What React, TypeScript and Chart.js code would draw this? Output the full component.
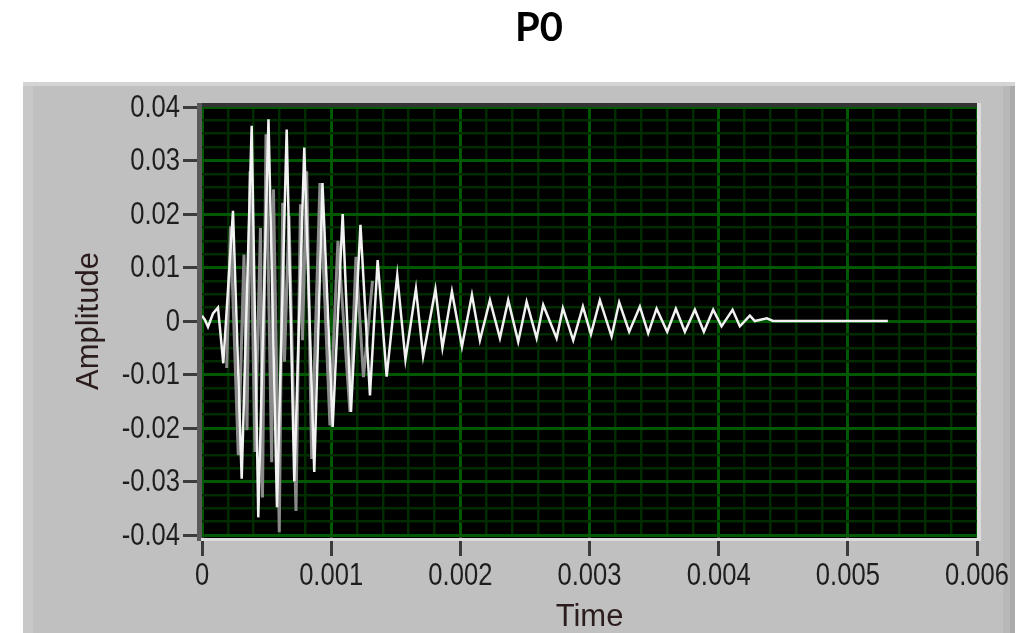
import React, { useEffect, useRef } from 'react';
import { Chart, registerables } from 'chart.js';

Chart.register(...registerables);

const chartTitle = 'P0';
const xAxisTitle = 'Time';
const yAxisTitle = 'Amplitude';
const xTickLabels = ['0', '0.001', '0.002', '0.003', '0.004', '0.005', '0.006'];
const yTickLabels = ['-0.04', '-0.03', '-0.02', '-0.01', '0', '0.01', '0.02', '0.03', '0.04'];

// main (bright) trace: time in seconds, amplitude
const mainTime = [
  0, 0.0000232, 0.0000464, 0.0000851, 0.0001238, 0.0001649, 0.0002399, 0.0003073, 0.0003847, 0.0004358,
  0.0005147, 0.0005805, 0.0006556, 0.0007144, 0.0007918, 0.0008692, 0.0009327, 0.0010116, 0.001089, 0.0011533,
  0.0012268, 0.0013003, 0.0013599, 0.0014296, 0.0015116, 0.0015751, 0.0016563, 0.0017121, 0.0018073, 0.0018615,
  0.001935, 0.0020124, 0.0020898, 0.0021517, 0.0022291, 0.0023065, 0.0023707, 0.0024481, 0.0025131, 0.0025905,
  0.0026416, 0.0027454, 0.0027941, 0.0028739, 0.0029489, 0.0030108, 0.0030805, 0.003171, 0.0032299, 0.0033073,
  0.0033901, 0.0034543, 0.0035193, 0.0036014, 0.0036687, 0.0037384, 0.0038158, 0.0038854, 0.0039574, 0.0040224,
  0.0041076, 0.0041641, 0.0042415, 0.0042802, 0.0043731, 0.0044195, 0.0053096,
];
const mainAmp = [
  0.001, 0.0002, -0.0011, 0.0014, 0.0025, -0.0079, 0.0206, -0.0295, 0.0365, -0.0367,
  0.0377, -0.0348, 0.0358, -0.03, 0.0324, -0.0282, 0.0258, -0.0198, 0.02, -0.017,
  0.018, -0.0139, 0.0114, -0.0104, 0.0085, -0.0072, 0.006, -0.0066, 0.0059, -0.005,
  0.0055, -0.0048, 0.0049, -0.0036, 0.0039, -0.0032, 0.0039, -0.0039, 0.0036, -0.0032,
  0.003, -0.0032, 0.0024, -0.0036, 0.0027, -0.0025, 0.0039, -0.0029, 0.0035, -0.002,
  0.0027, -0.0023, 0.0023, -0.002, 0.0023, -0.002, 0.0021, -0.002, 0.0021, -0.001,
  0.0021, -0.001, 0.001, 0, 0.0005, 0, 0,
];

// secondary (grey) trace seen inside the burst
const ghostTime = [
  0.0001912, 0.0002206, 0.000281, 0.0003251, 0.0003483, 0.0003715, 0.0004102, 0.0004528, 0.0004683, 0.0004954,
  0.0005395, 0.0005534, 0.0005983, 0.0006246, 0.0006385, 0.0006734, 0.0007276, 0.0007624, 0.0007779, 0.0008104,
  0.0008491, 0.0009133, 0.0009907, 0.0010526, 0.0011455, 0.001192, 0.0012500, 0.0013200,
];
const ghostAmp = [
  -0.0088, 0.0177, -0.0251, 0.0124, -0.0204, 0.028, -0.0245, 0.0174, -0.033, 0.0349,
  -0.0264, 0.0246, -0.0395, 0.0221, -0.0076, 0.0196, -0.0355, 0.0218, -0.0036, 0.028,
  -0.0258, 0.0258, -0.0195, 0.015, -0.017, 0.012, -0.0105, 0.0075,
];

const MAJOR_GRID = 'rgb(0, 88, 0)';
const MINOR_GRID = 'rgb(0, 44, 0)';
const TICK_FONT = "32px 'Liberation Sans', Arial, sans-serif";
const TITLE_FONT = "'Liberation Sans', Arial, sans-serif";
const LABEL_SQUEEZE = 0.8;

const isMajorX = (v: number) => Math.round(v / 0.0002) % 5 === 0;
const isMajorY = (v: number) => Math.round(v / 0.0025) % 4 === 0;

const framePlugin = {
  id: 'labviewFrame',
  beforeDraw(chart: any) {
    const { ctx, width, height, chartArea } = chart;
    const { left, top, right, bottom } = chartArea;
    ctx.save();
    ctx.fillStyle = '#ffffff';
    ctx.fillRect(0, 0, width, height);
    ctx.fillStyle = '#c0c0c0';
    ctx.fillRect(23, 82, 992, height - 82);
    ctx.fillStyle = '#d4d4d4';
    ctx.fillRect(23, 82, 992, 4);
    ctx.fillStyle = '#c8c8c8';
    ctx.fillRect(23, 86, 10, height - 86);
    ctx.fillStyle = '#b8b8b8';
    ctx.fillRect(1003, 86, 7, height - 86);
    ctx.fillStyle = '#ababab';
    ctx.fillRect(1010, 86, 5, height - 86);
    ctx.fillStyle = '#000000';
    ctx.fillRect(left, top - 4, right - left, bottom - top + 7);
    ctx.restore();
  },
  afterDraw(chart: any) {
    const { ctx, chartArea, scales } = chart;
    const { left, top, right, bottom } = chartArea;
    ctx.save();
    ctx.fillStyle = '#333333';
    ctx.fillRect(left - 1, top - 4, right - left + 1, 4);
    ctx.fillStyle = '#5a5a5a';
    ctx.fillRect(left - 5, top - 4, 5, bottom - top + 10);
    ctx.fillStyle = '#dcdcdc';
    ctx.fillRect(right, top - 4, 4, bottom - top + 10);
    ctx.fillRect(left - 1, bottom + 3, right - left + 5, 3);

    // tick labels (narrow LabVIEW-style), placed through the scales
    ctx.fillStyle = '#1e1e1e';
    ctx.font = TICK_FONT;
    ctx.textBaseline = 'middle';
    const xs = scales.x;
    xs.ticks.forEach((t: any) => {
      const k = Math.round(t.value / 0.0002);
      if (k % 5 !== 0) return;
      const px = xs.getPixelForValue(t.value);
      ctx.save();
      ctx.translate(px, bottom + 41);
      ctx.scale(LABEL_SQUEEZE, 1);
      ctx.textAlign = 'center';
      ctx.fillText(xTickLabels[k / 5], 0, 0);
      ctx.restore();
    });
    const ys = scales.y;
    ys.ticks.forEach((t: any) => {
      const k = Math.round(t.value / 0.0025);
      if (k % 4 !== 0) return;
      const py = ys.getPixelForValue(t.value);
      ctx.save();
      ctx.translate(left - 22, py + 1);
      ctx.scale(LABEL_SQUEEZE, 1);
      ctx.textAlign = 'right';
      ctx.fillText(yTickLabels[k / 4 + 4], 0, 0);
      ctx.restore();
    });
    ctx.restore();
  },
};

export default function App() {
  const canvasRef = useRef<HTMLCanvasElement | null>(null);

  useEffect(() => {
    if (!canvasRef.current) return;
    const mainData = mainTime.map((t, i) => ({ x: t, y: mainAmp[i] }));
    const ghostData = ghostTime.map((t, i) => ({ x: t, y: ghostAmp[i] }));

    const chart = new Chart(canvasRef.current, {
      type: 'line',
      data: {
        datasets: [
          {
            label: 'Amplitude',
            data: mainData,
            borderColor: '#f2f2f2',
            borderWidth: 2.5,
            pointRadius: 0,
            tension: 0,
            fill: false,
          },
          {
            label: 'Amplitude (trace)',
            data: ghostData,
            borderColor: '#8a8a8a',
            borderWidth: 3,
            pointRadius: 0,
            tension: 0,
            fill: false,
          },
        ],
      },
      options: {
        responsive: false,
        animation: false,
        devicePixelRatio: 1,
        layout: { padding: { left: 53, right: 0, top: 0, bottom: 0 } },
        plugins: {
          legend: { display: false },
          tooltip: { enabled: false },
          title: {
            display: true,
            text: chartTitle,
            color: '#000000',
            font: { family: "Lato, 'Open Sans', sans-serif", weight: 'bold', size: 40, lineHeight: 1.2 },
            padding: { top: 4, bottom: 55 },
          },
        },
        scales: {
          x: {
            type: 'linear',
            min: 0,
            max: 0.006,
            ticks: {
              display: false,
              stepSize: 0.0002,
              autoSkip: false,
              maxTicksLimit: 100,
              maxRotation: 0,
              minRotation: 0,
            },
            grid: {
              color: (c: any) => (c.tick && isMajorX(c.tick.value) ? MAJOR_GRID : MINOR_GRID),
              lineWidth: (c: any) => (c.tick && isMajorX(c.tick.value) ? 3 : 2.5),
              tickColor: (c: any) => (c.tick && isMajorX(c.tick.value) ? '#3c3c3c' : 'rgba(0,0,0,0)'),
              tickLength: 21,
              tickWidth: 3,
            },
            border: { display: false },
            title: {
              display: true,
              text: xAxisTitle,
              color: '#2b1d1d',
              font: { family: TITLE_FONT, size: 31, lineHeight: 1 },
              padding: { top: 0, bottom: 0 },
            },
            afterFit: (s: any) => {
              s.height = 98;
            },
          },
          y: {
            type: 'linear',
            min: -0.04,
            max: 0.04,
            ticks: {
              display: false,
              stepSize: 0.0025,
              autoSkip: false,
              maxTicksLimit: 100,
            },
            grid: {
              color: (c: any) => (c.tick && isMajorY(c.tick.value) ? MAJOR_GRID : MINOR_GRID),
              lineWidth: (c: any) => (c.tick && isMajorY(c.tick.value) ? 3 : 2.5),
              tickColor: (c: any) => (c.tick && isMajorY(c.tick.value) ? '#3c3c3c' : 'rgba(0,0,0,0)'),
              tickLength: 19,
              tickWidth: 3,
            },
            border: { display: false },
            title: {
              display: true,
              text: yAxisTitle,
              color: '#2b1d1d',
              font: { family: TITLE_FONT, size: 31, lineHeight: 1.2 },
              padding: { top: 18, bottom: 0 },
            },
            afterFit: (s: any) => {
              s.width = 149;
            },
          },
          y2: {
            type: 'linear',
            position: 'right',
            display: true,
            grid: { display: false, drawTicks: false },
            ticks: { display: false },
            border: { display: false },
            afterFit: (s: any) => {
              s.width = 48;
            },
          },
        },
      } as any,
      plugins: [framePlugin],
    });
    return () => chart.destroy();
  }, []);

  return (
    <div style={{ position: 'absolute', left: 0, top: 0, width: 1025, height: 633 }}>
      <canvas ref={canvasRef} width={1025} height={633} style={{ width: 1025, height: 633 }} />
    </div>
  );
}
